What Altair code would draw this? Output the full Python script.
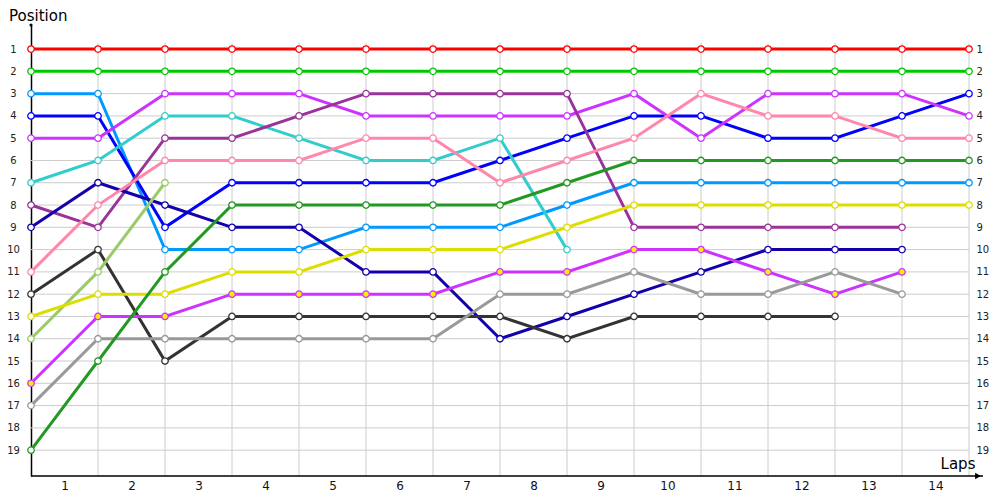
import altair as alt
import pandas as pd

# ---- data (positions per lap, lap 0 = start) ----
laps = list(range(15))
red = [1, 1, 1, 1, 1, 1, 1, 1, 1, 1, 1, 1, 1, 1, 1]
green = [2, 2, 2, 2, 2, 2, 2, 2, 2, 2, 2, 2, 2, 2, 2]
lightblue = [3, 3, 10, 10, 10, 9, 9, 9, 8, 7, 7, 7, 7, 7, 7]
blue = [4, 4, 9, 7, 7, 7, 7, 6, 5, 4, 4, 5, 5, 4, 3]
violet = [5, 5, 3, 3, 3, 4, 4, 4, 4, 3, 5, 3, 3, 3, 4]
teal = [7, 6, 4, 4, 5, 6, 6, 5, 10]
plum = [8, 9, 5, 5, 4, 3, 3, 3, 3, 9, 9, 9, 9, 9]
navy = [9, 7, 8, 9, 9, 11, 11, 14, 13, 12, 11, 10, 10, 10]
pink = [11, 8, 6, 6, 6, 5, 5, 7, 6, 5, 3, 4, 4, 5, 5]
charcoal = [12, 10, 15, 13, 13, 13, 13, 13, 14, 13, 13, 13, 13]
lime = [14, 11, 7]
yellow = [13, 12, 12, 11, 11, 10, 10, 10, 9, 8, 8, 8, 8, 8, 8]
violet2 = [16, 13, 13, 12, 12, 12, 12, 11, 11, 10, 10, 11, 12, 11]
gray = [17, 14, 14, 14, 14, 14, 14, 12, 12, 11, 12, 12, 11, 12]
forest = [19, 15, 11, 8, 8, 8, 8, 8, 7, 6, 6, 6, 6, 6, 6]

names = ["red", "green", "lightblue", "blue", "violet", "teal", "plum", "navy",
         "pink", "charcoal", "lime", "yellow", "violet2", "gray", "forest"]
series = [red, green, lightblue, blue, violet, teal, plum, navy,
          pink, charcoal, lime, yellow, violet2, gray, forest]
line_colors = ["#ff0000", "#00c800", "#0099ff", "#0000ff", "#cc33ff", "#33cccc",
               "#993399", "#1400aa", "#ff88aa", "#333333", "#99cc66", "#dddd00",
               "#cc33ff", "#999999", "#229922"]
marker_fill = ["#ffffff"] * 12 + ["#ffee00"] + ["#ffffff"] * 2

position_ticks = list(range(1, 20))
lap_labels = [l + 0.5 for l in range(14)]  # label "n" sits mid-lap

rows = []
for n, s in zip(names, series):
    for lap, p in zip(laps, s):
        rows.append({"driver": n, "lap": lap, "pos": p})
df = pd.DataFrame(rows)

grid_v = pd.DataFrame({"lap": laps[1:]})
grid_h = pd.DataFrame({"pos": position_ticks})
one = pd.DataFrame({"a": [0]})

W, H = 938, 451
xs = alt.Scale(domain=[0, 14], nice=False, zero=False)
ys = alt.Scale(domain=[-0.08, 20.16], nice=False, zero=False, reverse=True)
FONT = "DejaVu Sans"

vgrid = alt.Chart(grid_v).mark_rule(color="#cccccc", strokeWidth=1).encode(
    x=alt.X("lap:Q", scale=xs, axis=alt.Axis(
        orient="bottom", values=lap_labels, title=None, domain=False, ticks=False,
        grid=False, labelExpr="format(datum.value + 0.5, 'd')", labelFont=FONT,
        labelFontSize=12, labelColor="#111", labelBaseline="middle",
        labelPadding=9)),
    y=alt.datum(0.72, scale=ys, axis=None),
    y2=alt.datum(20.16),
)

hgrid = alt.Chart(grid_h).mark_rule(color="#cccccc", strokeWidth=1).encode(
    y=alt.Y("pos:Q", scale=ys, axis=alt.Axis(
        orient="left", values=position_ticks, title=None, ticks=False, grid=False,
        domain=True, domainColor="#000000", domainWidth=1.5,
        labelAlign="center", labelPadding=18, labelFont=FONT,
        labelFontSize=10, labelColor="#222")),
    x=alt.datum(0, scale=xs, axis=None),
    x2=alt.datum(14),
)

lines = alt.Chart(df).mark_line(strokeWidth=3).encode(
    x=alt.X("lap:Q", scale=xs, axis=None),
    y=alt.Y("pos:Q", scale=ys, axis=None),
    color=alt.Color("driver:N", scale=alt.Scale(domain=names, range=line_colors), legend=None),
    detail="driver:N",
)

points = alt.Chart(df).mark_point(size=42, strokeWidth=1.3, filled=False, opacity=1).encode(
    x=alt.X("lap:Q", scale=xs, axis=None),
    y=alt.Y("pos:Q", scale=ys, axis=alt.Axis(
        orient="right", values=position_ticks, title=None, ticks=False,
        grid=False, domain=False, labelAlign="left", labelPadding=7,
        labelFont=FONT, labelFontSize=10, labelColor="#222")),
    stroke=alt.Stroke("driver:N", scale=alt.Scale(domain=names, range=line_colors), legend=None),
    fill=alt.Fill("driver:N", scale=alt.Scale(domain=names, range=marker_fill), legend=None),
)

xaxis_line = alt.Chart(one).mark_rule(color="#000000", strokeWidth=1.5).encode(
    x=alt.value(0), x2=alt.value(952), y=alt.value(H))
arrow = alt.Chart(one).mark_point(shape="triangle-right", filled=True, size=45,
                                  color="#000000", opacity=1).encode(
    x=alt.value(947), y=alt.value(H))
top_dot = alt.Chart(one).mark_point(filled=True, size=10, color="#000000", opacity=1).encode(
    x=alt.value(0), y=alt.value(0))
laps_text = alt.Chart(one).mark_text(text="Laps", font=FONT, fontSize=15,
                                     align="center", baseline="middle", color="#000").encode(
    x=alt.value(927), y=alt.value(439))
pos_text = alt.Chart(one).mark_text(text="Position", font=FONT, fontSize=15,
                                    align="left", baseline="middle", color="#000").encode(
    x=alt.value(-22), y=alt.value(-9))

chart = alt.layer(
    vgrid, hgrid, lines, points, xaxis_line, arrow, top_dot, laps_text, pos_text
).resolve_axis(x="independent", y="independent").properties(
    width=W, height=H,
    autosize=alt.AutoSizeParams(type="none"),
    padding={"left": 23, "top": 17, "right": 23, "bottom": 16},
    background="#ffffff",
).configure_view(stroke=None)

chart.save("out.html", embed_options={"renderer": "svg", "actions": False})
